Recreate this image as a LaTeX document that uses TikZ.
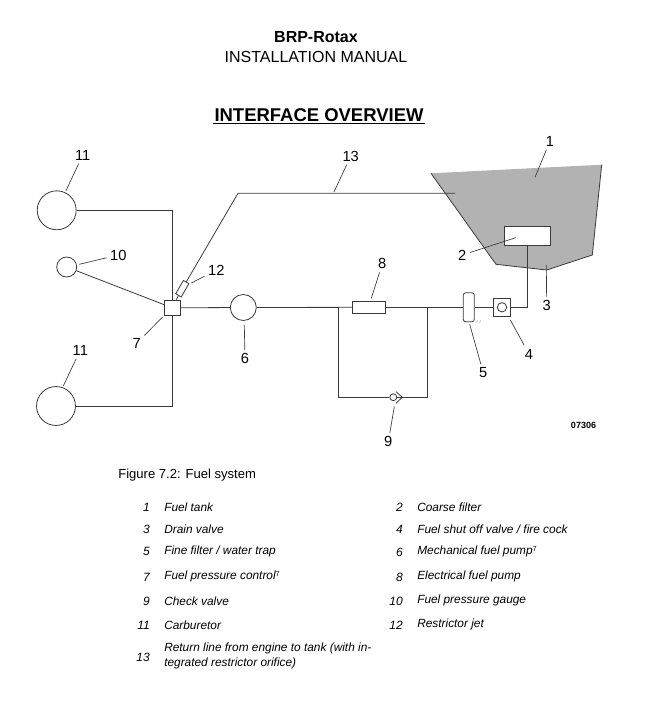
\documentclass[tikz,border=0pt]{standalone}
\usepackage{fontspec}
\setmainfont{Liberation Sans}
\usetikzlibrary{positioning, calc}
\definecolor{tankgray}{HTML}{B2B2B2}
\definecolor{pipecol}{HTML}{3A3A3A}
\newcommand{\footmark}{\raisebox{2.2pt}{\fontsize{5.5}{6}\selectfont\upshape 7}}
\tikzset{
  pipe/.style={draw=pipecol, line width=0.6pt},
  leader/.style={draw=pipecol, line width=0.5pt},
  partcirc/.style={circle, draw=pipecol, line width=0.6pt, fill=white, inner sep=0pt},
  partbox/.style={rectangle, draw=pipecol, line width=0.6pt, fill=white, inner sep=0pt},
  numlab/.style={font=\fontsize{11}{13}\selectfont, inner sep=2.5pt},
  legnum/.style={anchor=east, inner sep=0pt, font=\fontsize{9}{11}\selectfont\itshape},
  legtext/.style={anchor=west, inner sep=0pt, align=left, font=\fontsize{8.9}{11.2}\selectfont\itshape}
}
\begin{document}
\begin{tikzpicture}[x=0.75pt, y=-0.75pt]
\useasboundingbox (0,0) rectangle (656,720);
% Heading
\node[font=\fontsize{12}{14}\selectfont\bfseries] (brand) at (316,37) {BRP-Rotax};
\node[font=\fontsize{12}{14}\selectfont] (manual) at (316,57) {INSTALLATION MANUAL};
\node[font=\fontsize{13.85}{16}\selectfont\bfseries, inner sep=1pt] (title) at (319,115) {INTERFACE OVERVIEW};
\draw[line width=0.9pt] (title.south west) -- (title.south east);
% Tank
\coordinate (t1) at (431,173.3);
\coordinate (t2) at (601.7,164.7);
\coordinate (t3) at (592.3,255);
\coordinate (t4) at (546.7,270);
\coordinate (t5) at (496,264.3);
\fill[tankgray] (t1) -- (t2) -- (t3) -- (t4) -- (t5) -- cycle;
\draw[pipe] (t2) -- (t3) -- (t4) -- (t5) -- (t1);
\node[partbox, minimum width=34.5pt, minimum height=14.3pt] (cfilter) at (527.2,235.8) {};
% Parts on the fuel line
\node[partcirc, minimum size=29.2pt] (carbtop) at (56.7,210.3) {};
\node[partcirc, minimum size=29.2pt] (carbbot) at (56,406) {};
\node[partcirc, minimum size=15pt] (gauge) at (66.7,267) {};
\node[partbox, minimum size=11.7pt] (pctrl) at (172.2,307.8) {};
\node[partcirc, minimum size=19.5pt] (mpump) at (243.3,307.5) {};
\node[partbox, minimum width=24.5pt, minimum height=8.5pt] (epump) at (368.7,307.3) {};
\node[partbox, minimum width=8.2pt, minimum height=21.8pt, rounded corners=1.8pt] (ffilter) at (468.8,307.3) {};
\node[partbox, minimum size=13pt] (fshut) at (502,307.3) {};
\node[partcirc, minimum size=7pt] (fshutin) at (502,307.3) {};
\node[partcirc, minimum size=5.2pt] (chkv) at (393.3,397.2) {};
\node[partbox, minimum width=11.5pt, minimum height=4.8pt, rotate=60] (jet) at (182.3,288.7) {};
% Fuel lines
\coordinate (jl) at (338.3,307.3);
\coordinate (jr) at (427.3,307.3);
\coordinate (retbend) at (238,193.3);
\coordinate (retend) at (455,193.3);
\draw[pipe] (carbtop) -| (pctrl);
\draw[pipe] (carbbot) -| (pctrl);
\draw[pipe] (gauge) -- (pctrl);
\draw[pipe] (pctrl) -- (mpump);
\draw[pipe] (mpump) -- (epump);
\draw[pipe] (epump) -- (ffilter);
\draw[pipe] (ffilter) -- (fshut);
\draw[pipe] (fshut) -| (cfilter);
\draw[pipe] (jl) |- (chkv);
\draw[pipe] (jr) |- (chkv);
\draw[pipe] (pctrl) -- (jet.west);
\draw[pipe] (jet.east) -- (retbend) -- (retend);
% Check valve chevron
\coordinate (chv1) at (396,391.7);
\coordinate (chv2) at (402.3,397.2);
\coordinate (chv3) at (396,403.3);
\draw[pipe] (chv1) -- (chv2) -- (chv3);
% Water trap drain marks
\draw[gray!70, line width=0.4pt] (476.5,323) -- (477.5,320.5);
\draw[gray!70, line width=0.4pt] (479.5,323) -- (480.5,320.5);
% Number labels
\node[numlab] (lab1) at (550,141) {1};
\node[numlab] (lab2) at (462.3,255) {2};
\node[numlab] (lab3) at (546.7,305.7) {3};
\node[numlab] (lab4) at (529,354) {4};
\node[numlab] (lab5) at (483.3,373) {5};
\node[numlab] (lab6) at (245,358.7) {6};
\node[numlab] (lab7) at (136.7,343.3) {7};
\node[numlab] (lab8) at (382.3,263.7) {8};
\node[numlab] (lab9) at (388.3,441.7) {9};
\node[numlab] (lab10) at (118.3,255) {10};
\node[numlab] (lab11a) at (82.7,155) {11};
\node[numlab] (lab11b) at (80.3,350) {11};
\node[numlab] (lab12) at (216.3,270.3) {12};
\node[numlab] (lab13) at (350.7,156) {13};
% Leader ends
\coordinate (e1) at (535,177.3);
\coordinate (e2) at (515.7,237.7);
\coordinate (e3) at (546.3,265);
\coordinate (e4) at (510.3,320);
\coordinate (e5) at (469.7,324.3);
\coordinate (e6) at (244.3,325);
\coordinate (e7) at (162.3,317.3);
\coordinate (e8) at (371.3,298.3);
\coordinate (e9) at (394.3,406.7);
\coordinate (e10) at (79.3,264.3);
\coordinate (e11a) at (66,190.7);
\coordinate (e11b) at (63.3,386);
\coordinate (e12) at (191.3,283);
\coordinate (e13) at (334,192);
\draw[leader] (lab1) -- (e1);
\draw[leader] (lab2) -- (e2);
\draw[leader] (lab3) -- (e3);
\draw[leader] (lab4) -- (e4);
\draw[leader] (lab5) -- (e5);
\draw[leader] (lab6) -- (e6);
\draw[leader] (lab7) -- (e7);
\draw[leader] (lab8) -- (e8);
\draw[leader] (lab9) -- (e9);
\draw[leader] (lab10) -- (e10);
\draw[leader] (lab11a) -- (e11a);
\draw[leader] (lab11b) -- (e11b);
\draw[leader] (lab12) -- (e12);
\draw[leader] (lab13) -- (e13);
\node[font=\fontsize{6.75}{8}\selectfont\bfseries] (drawno) at (583.5,425) {07306};
% Caption
\node[anchor=west, inner sep=0pt, font=\fontsize{9.8}{12}\selectfont] (caption) at (118,475) {Figure 7.2: Fuel system};
% Legend, left column
\node[legnum] (n1) at (150,507) {1};
\node[legtext] (l1) at (164,507) {Fuel tank};
\node[legnum] (n3) at (150,529) {3};
\node[legtext] (l3) at (164,529) {Drain valve};
\node[legnum] (n5) at (150,551) {5};
\node[legtext] (l5) at (164,551) {Fine filter / water trap};
\node[legnum] (n7) at (150,577) {7};
\node[legtext] (l7) at (164,576) {Fuel pressure control\footmark};
\node[legnum] (n9) at (150,601) {9};
\node[legtext] (l9) at (164,601) {Check valve};
\node[legnum] (n11) at (150,625) {11};
\node[legtext] (l11) at (164,625) {Carburetor};
\node[legnum] (n13) at (150,657) {13};
\node[legtext] (l13) at (164,656) {Return line from engine to tank (with in-\\tegrated restrictor orifice)};
% Legend, right column
\node[legnum] (n2) at (403,507) {2};
\node[legtext] (l2) at (417,507) {Coarse filter};
\node[legnum] (n4) at (403,529) {4};
\node[legtext] (l4) at (417,529) {Fuel shut off valve / fire cock};
\node[legnum] (n6) at (403,552) {6};
\node[legtext] (l6) at (417,551) {Mechanical fuel pump\footmark};
\node[legnum] (n8) at (403,577) {8};
\node[legtext] (l8) at (417,576) {Electrical fuel pump};
\node[legnum] (n10) at (403,601) {10};
\node[legtext] (l10) at (417,600) {Fuel pressure gauge};
\node[legnum] (n12) at (403,625) {12};
\node[legtext] (l12) at (417,624) {Restrictor jet};
\end{tikzpicture}
\end{document}
